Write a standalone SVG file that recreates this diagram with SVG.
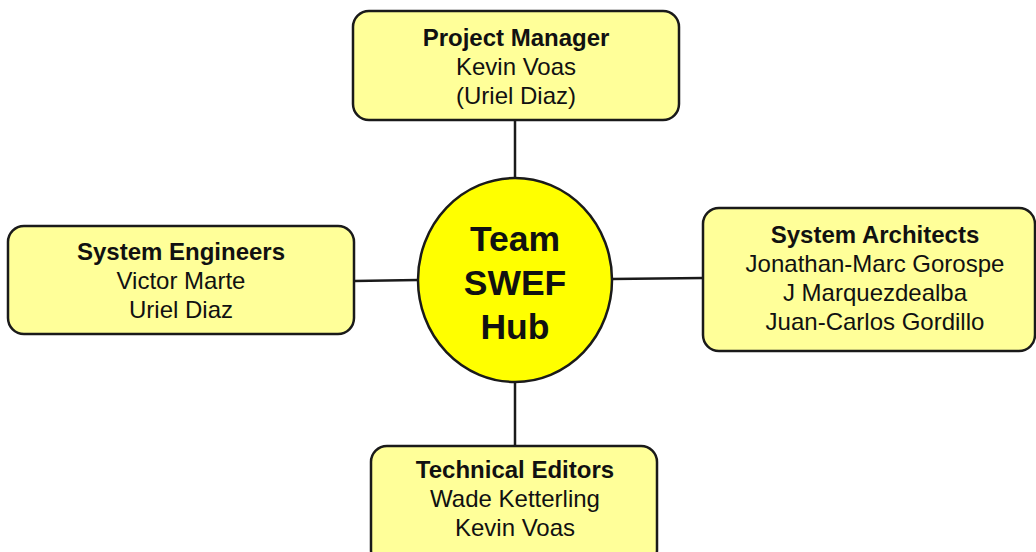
<svg xmlns="http://www.w3.org/2000/svg" width="1036" height="552" viewBox="0 0 1036 552">
  <style>
    .box { fill: #ffff99; stroke: #1a1a1a; stroke-width: 2.5; }
    .hub { fill: #ffff00; stroke: #1a1a1a; stroke-width: 2.5; }
    .link { stroke: #1a1a1a; stroke-width: 2.5; fill: none; }
    text { font-family: "Liberation Sans", Arial, sans-serif; fill: #111; text-anchor: middle; }
    .title { font-size: 24px; font-weight: bold; }
    .name { font-size: 24px; }
    .hubtext { font-size: 35.5px; font-weight: bold; }
  </style>
  <rect width="1036" height="552" fill="#ffffff"/>

  <g id="connectors">
    <line class="link" x1="515" y1="120" x2="515" y2="179"/>
    <line class="link" x1="515" y1="381" x2="515" y2="446"/>
    <line class="link" x1="354" y1="281" x2="418" y2="280"/>
    <line class="link" x1="611" y1="279" x2="704" y2="278"/>
  </g>

  <g id="hub">
    <ellipse class="hub" cx="515" cy="280" rx="97" ry="102"/>
    <text class="hubtext" x="515" y="251">Team</text>
    <text class="hubtext" x="515" y="295">SWEF</text>
    <text class="hubtext" x="515" y="339">Hub</text>
  </g>

  <g id="project-manager">
    <rect class="box" x="353" y="11" width="326" height="109" rx="16"/>
    <text class="title" x="516" y="46">Project Manager</text>
    <text class="name" x="516" y="75">Kevin Voas</text>
    <text class="name" x="516" y="104">(Uriel Diaz)</text>
  </g>

  <g id="system-engineers">
    <rect class="box" x="8" y="226" width="346" height="108" rx="16"/>
    <text class="title" x="181" y="260">System Engineers</text>
    <text class="name" x="181" y="289">Victor Marte</text>
    <text class="name" x="181" y="318">Uriel Diaz</text>
  </g>

  <g id="system-architects">
    <rect class="box" x="703" y="208" width="332" height="143" rx="16"/>
    <text class="title" x="875" y="243">System Architects</text>
    <text class="name" x="875" y="272">Jonathan-Marc Gorospe</text>
    <text class="name" x="875" y="301">J Marquezdealba</text>
    <text class="name" x="875" y="330">Juan-Carlos Gordillo</text>
  </g>

  <g id="technical-editors">
    <rect class="box" x="371" y="446" width="286" height="120" rx="16"/>
    <text class="title" x="515" y="478">Technical Editors</text>
    <text class="name" x="515" y="507">Wade Ketterling</text>
    <text class="name" x="515" y="536">Kevin Voas</text>
  </g>
</svg>
